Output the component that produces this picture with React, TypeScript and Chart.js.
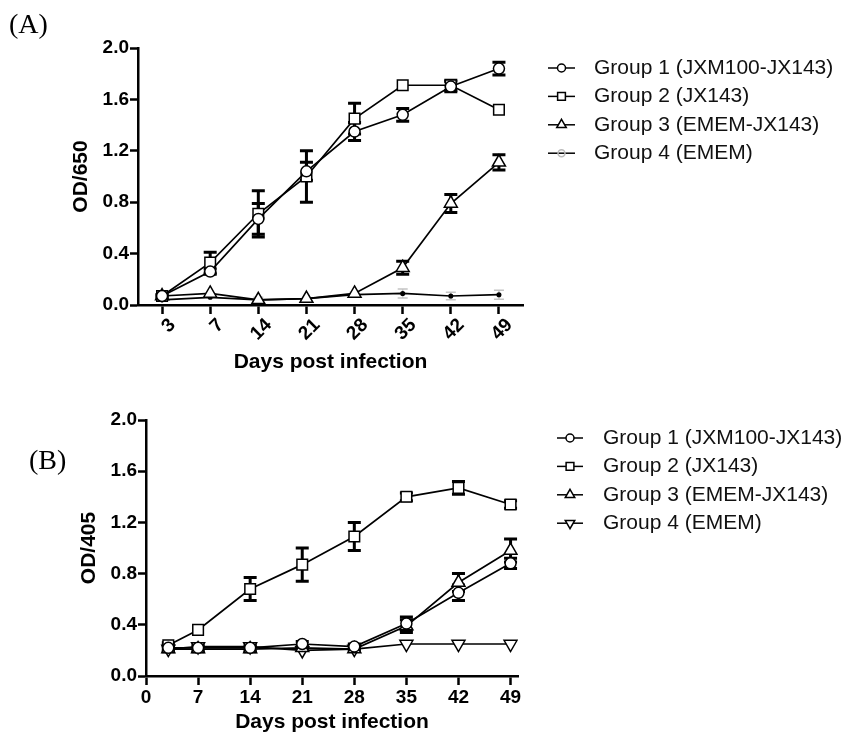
import React, { useEffect, useRef } from 'react';
import { Chart, registerables } from 'chart.js';
import * as helpers from 'chart.js/helpers';

Chart.register(...registerables);

const SANS = "'Liberation Sans', Arial, Helvetica, sans-serif";
const SERIF = "'Liberation Serif', 'Times New Roman', serif";

// ---------- data ----------
const groupNames = ['Group 1 (JXM100-JX143)', 'Group 2 (JX143)', 'Group 3 (EMEM-JX143)', 'Group 4 (EMEM)'];
const dayLabelsA = ['3', '7', '14', '21', '28', '35', '42', '49'];
const daysB = [3, 7, 14, 21, 28, 35, 42, 49];

// Panel A: OD/650
const a_g1 = [0.07, 0.26, 0.67, 1.04, 1.35, 1.48, 1.70, 1.84];
const a_g1_err = [0.01, 0.02, 0.12, 0.07, 0.07, 0.05, 0.04, 0.05];
const a_g2 = [0.07, 0.33, 0.71, 1.00, 1.45, 1.71, 1.71, 1.52];
const a_g2_err = [0.01, 0.08, 0.18, 0.20, 0.12, 0, 0.04, 0];
const a_g3 = [0.07, 0.09, 0.04, 0.05, 0.09, 0.29, 0.79, 1.11];
const a_g3_err = [0, 0, 0, 0, 0, 0.05, 0.07, 0.06];
const a_g4 = [0.04, 0.06, 0.04, 0.05, 0.08, 0.09, 0.07, 0.08];
const a_g4_err = [0, 0, 0.02, 0, 0.02, 0.035, 0.03, 0.035];

// Panel B: OD/405
const b_g1 = [0.22, 0.22, 0.22, 0.25, 0.23, 0.41, 0.65, 0.88];
const b_g1_err = [0.02, 0.02, 0.02, 0.02, 0.02, 0.05, 0.06, 0.04];
const b_g2 = [0.24, 0.36, 0.68, 0.87, 1.09, 1.40, 1.47, 1.34];
const b_g2_err = [0.02, 0, 0.09, 0.13, 0.11, 0.03, 0.05, 0.03];
const b_g3 = [0.21, 0.21, 0.21, 0.22, 0.21, 0.39, 0.73, 0.98];
const b_g3_err = [0.02, 0.02, 0.02, 0.01, 0.01, 0.05, 0.07, 0.09];
const b_g4 = [0.21, 0.23, 0.23, 0.20, 0.21, 0.25, 0.25, 0.25];
const b_g4_err = [0, 0, 0, 0, 0, 0, 0, 0];

// ---------- plugins ----------
const errorBarPlugin = {
  id: 'errorBars',
  beforeDatasetsDraw(chart: any) {
    const ctx = chart.ctx;
    const ys = chart.scales.y;
    chart.data.datasets.forEach((ds: any, di: number) => {
      const errs = ds.errors;
      if (!errs) return;
      const meta = chart.getDatasetMeta(di);
      meta.data.forEach((pt: any, i: number) => {
        const e = errs[i];
        if (!e) return;
        const raw = ds.data[i];
        const v = typeof raw === 'number' ? raw : raw.y;
        const top = ys.getPixelForValue(v + e);
        const bot = ys.getPixelForValue(v - e);
        const cap = ds.capHalf ?? 6.5;
        ctx.save();
        ctx.strokeStyle = ds.errorColor || '#000';
        ctx.lineWidth = ds.errorWidth || 3;
        ctx.beginPath();
        ctx.moveTo(pt.x, top);
        ctx.lineTo(pt.x, bot);
        ctx.moveTo(pt.x - cap, top);
        ctx.lineTo(pt.x + cap, top);
        ctx.moveTo(pt.x - cap, bot);
        ctx.lineTo(pt.x + cap, bot);
        ctx.stroke();
        ctx.restore();
      });
    });
  },
};

const legendPlugin = {
  id: 'customLegend',
  afterDraw(chart: any, _args: any, opts: any) {
    const ctx = chart.ctx;
    ctx.save();
    // panel label
    ctx.fillStyle = '#000';
    ctx.font = `28px ${SERIF}`;
    ctx.textAlign = 'left';
    ctx.textBaseline = 'middle';
    ctx.fillText(opts.panelLabel, opts.labelX, opts.labelY);
    // legend rows
    chart.data.datasets.forEach((ds: any, i: number) => {
      const y = opts.y0 + i * opts.dy;
      ctx.strokeStyle = '#000';
      ctx.lineWidth = 1.5;
      ctx.beginPath();
      ctx.moveTo(opts.x0, y);
      ctx.lineTo(opts.x1, y);
      ctx.stroke();
      const cx = (opts.x0 + opts.x1) / 2;
      ctx.fillStyle = ds.legendFill || '#fff';
      ctx.strokeStyle = ds.legendStroke || '#000';
      helpers.drawPoint(ctx, {
        pointStyle: ds.pointStyle,
        rotation: ds.pointRotation || 0,
        radius: ds.legendRadius,
        borderWidth: 1.3,
      }, cx, y);
      ctx.fillStyle = '#111';
      ctx.font = `21px ${SANS}`;
      ctx.textAlign = 'left';
      ctx.textBaseline = 'middle';
      ctx.fillText(ds.label, opts.textX, y);
    });
    ctx.restore();
  },
};

// ---------- helpers ----------
function makeDataset(label: string, data: any[], errors: number[], style: any) {
  return {
    label,
    data,
    errors,
    borderColor: '#000',
    borderWidth: 1.7,
    pointBackgroundColor: '#fff',
    pointBorderColor: '#000',
    pointBorderWidth: 1.5,
    fill: false,
    tension: 0,
    ...style,
  };
}

const tickFont = { family: SANS, size: 19, weight: 'bold' as const };
const titleFont = { family: SANS, size: 21, weight: 'bold' as const };

function yScale(title: string, width: number, titlePad: number) {
  return {
    type: 'linear',
    min: 0,
    max: 2,
    ticks: {
      stepSize: 0.4,
      color: '#000',
      font: tickFont,
      padding: 1,
      callback: (v: any) => Number(v).toFixed(1),
    },
    grid: {
      display: true,
      drawOnChartArea: false,
      drawTicks: true,
      tickLength: 8,
      tickColor: '#000',
      tickWidth: 2.5,
      color: '#000',
    },
    border: { display: true, color: '#000', width: 2.5 },
    title: {
      display: true,
      text: title,
      color: '#000',
      font: titleFont,
      padding: { top: titlePad, bottom: 0 },
    },
    afterFit: (s: any) => {
      s.width = width;
      s.paddingTop = 0;
      s.paddingBottom = 0;
    },
  };
}

function buildConfigA(): any {
  return {
    type: 'line',
    data: {
      labels: dayLabelsA,
      datasets: [
        makeDataset(groupNames[0], a_g1, a_g1_err, { pointStyle: 'circle', pointRadius: 5.5, legendRadius: 4 }),
        makeDataset(groupNames[1], a_g2, a_g2_err, { pointStyle: 'rect', pointRadius: 7.5, legendRadius: 5.5 }),
        makeDataset(groupNames[2], a_g3, a_g3_err, { pointStyle: 'triangle', pointRadius: 7.5, legendRadius: 5.5 }),
        makeDataset(groupNames[3], a_g4, a_g4_err, {
          pointStyle: 'circle', pointRadius: 1.8, pointBackgroundColor: '#000',
          errorColor: '#c4c4c4', errorWidth: 1.5, capHalf: 5,
          legendRadius: 3.5, legendFill: 'rgba(255,255,255,0)', legendStroke: '#bbb',
        }),
      ],
    },
    options: {
      responsive: false,
      animation: false,
      events: [],
      layout: { padding: { left: 0, top: 48, right: 845 - 523, bottom: 0 } },
      plugins: {
        legend: { display: false },
        tooltip: { enabled: false },
        customLegend: { panelLabel: '(A)', labelX: 9, labelY: 26, x0: 548, x1: 575, textX: 594, y0: 68, dy: 28.4 },
      },
      scales: {
        x: {
          type: 'category',
          offset: true,
          grid: {
            display: true,
            drawOnChartArea: false,
            offset: false,
            tickLength: 9,
            tickColor: '#000',
            tickWidth: 2.5,
            color: '#000',
          },
          border: { display: true, color: '#000', width: 2.5 },
          ticks: {
            color: '#000',
            font: tickFont,
            minRotation: 45,
            maxRotation: 45,
            autoSkip: false,
            padding: 0,
            labelOffset: 10.5,
          },
          title: {
            display: true,
            text: 'Days post infection',
            color: '#000',
            font: titleFont,
            padding: { top: 0, bottom: 15 },
          },
          afterFit: (s: any) => {
            s.height = 85;
            s.paddingLeft = 0;
            s.paddingRight = 0;
          },
        },
        y: yScale('OD/650', 138, 69),
      },
    },
    plugins: [errorBarPlugin, legendPlugin],
  };
}

function buildConfigB(): any {
  const pts = (v: number[]) => daysB.map((d, i) => ({ x: d, y: v[i] }));
  return {
    type: 'line',
    data: {
      datasets: [
        makeDataset(groupNames[0], pts(b_g1), b_g1_err, { pointStyle: 'circle', pointRadius: 5.5, legendRadius: 4 }),
        makeDataset(groupNames[1], pts(b_g2), b_g2_err, { pointStyle: 'rect', pointRadius: 7.5, legendRadius: 5.5 }),
        makeDataset(groupNames[2], pts(b_g3), b_g3_err, { pointStyle: 'triangle', pointRadius: 7.5, legendRadius: 5.5 }),
        makeDataset(groupNames[3], pts(b_g4), b_g4_err, { pointStyle: 'triangle', pointRotation: 180, pointRadius: 7.5, legendRadius: 5.5 }),
      ],
    },
    options: {
      responsive: false,
      animation: false,
      events: [],
      layout: { padding: { left: 0, top: 30, right: 845 - 518, bottom: 0 } },
      plugins: {
        legend: { display: false },
        tooltip: { enabled: false },
        customLegend: { panelLabel: '(B)', labelX: 29, labelY: 72, x0: 557, x1: 583, textX: 603, y0: 48, dy: 28.4 },
      },
      scales: {
        x: {
          type: 'linear',
          min: 0,
          max: 50,
          grid: {
            display: true,
            drawOnChartArea: false,
            tickLength: 9,
            tickColor: '#000',
            tickWidth: 2.5,
            color: '#000',
          },
          border: { display: true, color: '#000', width: 2.5 },
          ticks: {
            stepSize: 7,
            includeBounds: false,
            color: '#000',
            font: tickFont,
            padding: 1,
            maxRotation: 0,
            autoSkip: false,
          },
          title: {
            display: true,
            text: 'Days post infection',
            color: '#000',
            font: titleFont,
            padding: { top: 0, bottom: 0 },
          },
          afterFit: (s: any) => {
            s.height = 59;
            s.paddingLeft = 0;
            s.paddingRight = 0;
          },
        },
        y: yScale('OD/405', 146, 77),
      },
    },
    plugins: [errorBarPlugin, legendPlugin],
  };
}

function ChartCanvas({ build, top, height }: { build: () => any; top: number; height: number }) {
  const ref = useRef<HTMLCanvasElement | null>(null);
  useEffect(() => {
    if (!ref.current) return;
    const chart = new Chart(ref.current, build());
    return () => chart.destroy();
  }, [build]);
  return (
    <canvas
      ref={ref}
      width={845}
      height={height}
      style={{ position: 'absolute', left: 0, top, width: 845, height, display: 'block' }}
    />
  );
}

export default function App() {
  return (
    <div style={{ position: 'absolute', left: 0, top: 0, width: 845, height: 735, background: '#fff' }}>
      <ChartCanvas build={buildConfigA} top={0} height={390} />
      <ChartCanvas build={buildConfigB} top={390} height={345} />
    </div>
  );
}
